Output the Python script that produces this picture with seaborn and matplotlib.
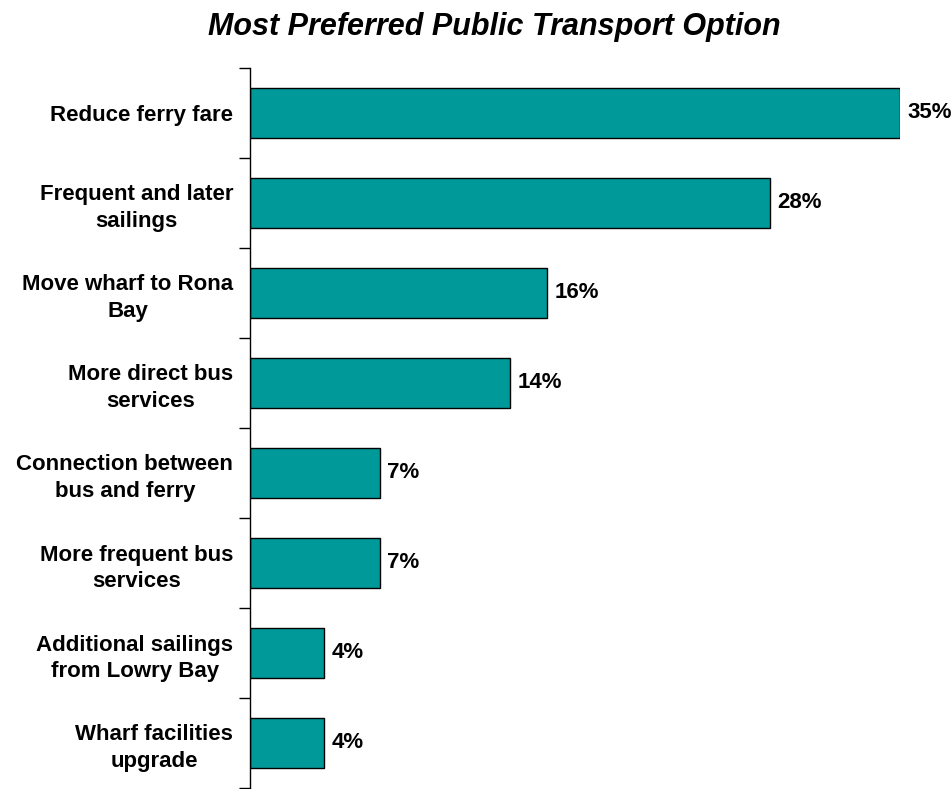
import matplotlib
matplotlib.use("Agg")
import matplotlib.pyplot as plt
import pandas as pd
import seaborn as sns

CATEGORIES = [
    "Reduce ferry fare",
    "Frequent and later\nsailings",
    "Move wharf to Rona\nBay",
    "More direct bus\nservices",
    "Connection between\nbus and ferry",
    "More frequent bus\nservices",
    "Additional sailings\nfrom Lowry Bay",
    "Wharf facilities\nupgrade",
]
SHARES = [35, 28, 16, 14, 7, 7, 4, 4]

sns.set_theme(style="white")
plt.rcParams["font.family"] = ["Liberation Sans", "DejaVu Sans"]
plt.rcParams["text.color"] = "black"
plt.rcParams["ytick.labelcolor"] = "black"

df = pd.DataFrame({"option": CATEGORIES, "share": SHARES})

W, H = 953, 789
fig = plt.figure(figsize=(W / 100, H / 100), dpi=100)
ax = fig.add_axes([250 / W, 1 / H, 650 / W, 720 / H])

sns.barplot(data=df, x="share", y="option", order=CATEGORIES, ax=ax,
            color="#009999", edgecolor="black", linewidth=1.0,
            width=0.56, orient="h", saturation=1)

for i, v in enumerate(SHARES):
    ax.text(v + 0.4, i, f"{v}%", va="center", ha="left", color="black",
            fontsize=16, fontweight="bold", clip_on=False)

ax.set_xlim(0, 35)
ax.set_ylim(len(CATEGORIES) - 0.5, -0.5)
ax.set_xlabel("")
ax.set_ylabel("")
ax.set_xticks([])

# labels at category centres, tick marks at the boundaries
ax.set_yticks(list(range(len(CATEGORIES))))
ax.set_yticklabels(CATEGORIES, fontsize=16, fontweight="bold",
                   multialignment="center", color="black",
                   linespacing=1.35)
ax.tick_params(axis="y", which="major", length=0, pad=12)
ax.set_yticks([i - 0.5 for i in range(len(CATEGORIES) + 1)], minor=True)
ax.tick_params(axis="y", which="minor", length=8, width=1.0,
               direction="out", color="black", left=True)

for s in ("top", "right", "bottom"):
    ax.spines[s].set_visible(False)
ax.spines["left"].set_color("black")
ax.spines["left"].set_linewidth(1.0)

fig.text(494 / W, 1 - 27 / H, "Most Preferred Public Transport Option",
         ha="center", va="center", fontsize=22, fontweight="bold",
         fontstyle="italic", color="black")

fig.savefig("out.png", dpi=100)
